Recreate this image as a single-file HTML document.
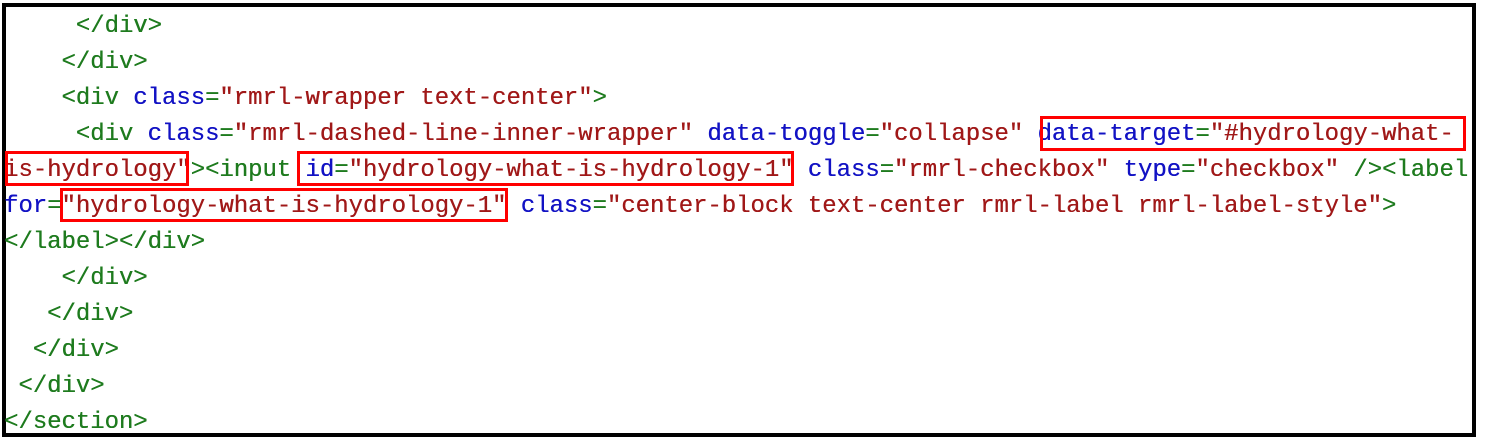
<!DOCTYPE html>
<html><head><meta charset="utf-8"><style>
html,body{margin:0;padding:0;background:#fff;width:1488px;height:444px;overflow:hidden;position:relative}
.frame{position:absolute;left:2px;top:3px;width:1466px;height:426px;border:4px solid #000;box-sizing:content-box}
.l{position:absolute;left:4px;height:36px;line-height:36px;font-family:"Liberation Mono",monospace;font-size:24px;white-space:pre;color:#1e7b1e;text-shadow:0.3px 0 0 currentColor;letter-spacing:-0.05px}
.g{color:#1e7b1e}.b{color:#1212c4}.r{color:#a01818}
.box{position:absolute;border:3px solid #f00;box-sizing:border-box}
</style></head><body>
<div class="frame"></div>
<div class="l" style="top:9px">     &lt;/div&gt;</div>
<div class="l" style="top:45px">    &lt;/div&gt;</div>
<div class="l" style="top:81px">    &lt;div <span class="b">class</span>=<span class="r">"rmrl-wrapper text-center"</span>&gt;</div>
<div class="l" style="top:117px">     &lt;div <span class="b">class</span>=<span class="r">"rmrl-dashed-line-inner-wrapper"</span> <span class="b">data-toggle</span>=<span class="r">"collapse"</span> <span class="b">data-target</span>=<span class="r">"#hydrology-what-</span></div>
<div class="l" style="top:153px"><span class="r">is-hydrology"</span>&gt;&lt;input <span class="b">id</span>=<span class="r">"hydrology-what-is-hydrology-1"</span> <span class="b">class</span>=<span class="r">"rmrl-checkbox"</span> <span class="b">type</span>=<span class="r">"checkbox"</span> /&gt;&lt;label</div>
<div class="l" style="top:189px"><span class="b">for</span>=<span class="r">"hydrology-what-is-hydrology-1"</span> <span class="b">class</span>=<span class="r">"center-block text-center rmrl-label rmrl-label-style"</span>&gt;</div>
<div class="l" style="top:225px">&lt;/label&gt;&lt;/div&gt;</div>
<div class="l" style="top:261px">    &lt;/div&gt;</div>
<div class="l" style="top:297px">   &lt;/div&gt;</div>
<div class="l" style="top:333px">  &lt;/div&gt;</div>
<div class="l" style="top:369px"> &lt;/div&gt;</div>
<div class="l" style="top:405px">&lt;/section&gt;</div>
<div class="box" style="left:1040px;top:116px;width:426px;height:35px"></div>
<div class="box" style="left:5px;top:151px;width:184px;height:35px"></div>
<div class="box" style="left:297px;top:151px;width:497px;height:35px"></div>
<div class="box" style="left:60px;top:188px;width:448px;height:34px"></div>
</body></html>
